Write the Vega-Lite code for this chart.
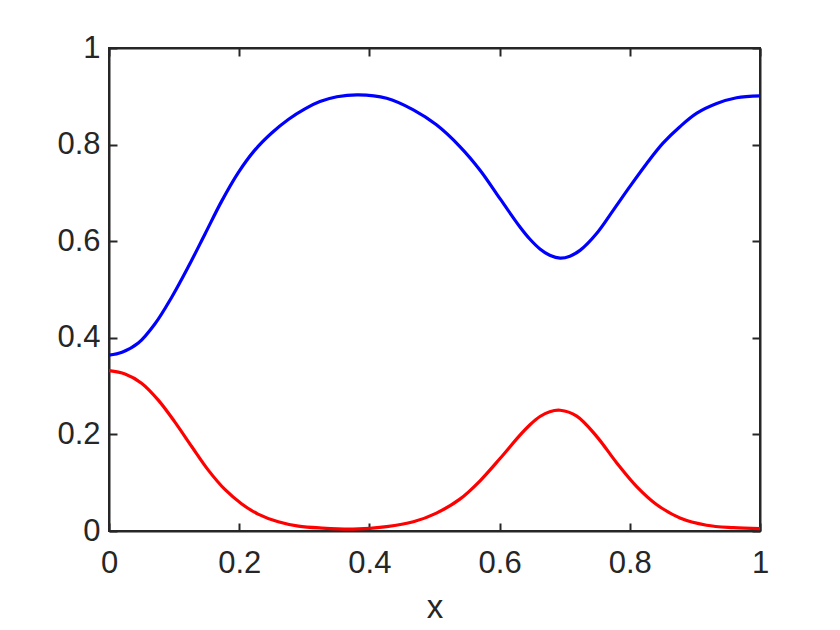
{
  "$schema": "https://vega.github.io/schema/vega-lite/v6.json",
  "width": 651,
  "height": 483,
  "autosize": {"type": "none"},
  "padding": {"left": 109, "top": 48, "right": 80, "bottom": 99},
  "background": "white",
  "config": {
    "font": "Liberation Sans",
    "view": {"stroke": "#262626", "strokeWidth": 2}
  },
  "datasets": {
    "curves": [
      {"x": 0, "y": 0.364, "s": "blue"},
      {"x": 0.02, "y": 0.370, "s": "blue"},
      {"x": 0.045, "y": 0.389, "s": "blue"},
      {"x": 0.0707, "y": 0.429, "s": "blue"},
      {"x": 0.0963, "y": 0.484, "s": "blue"},
      {"x": 0.1218, "y": 0.547, "s": "blue"},
      {"x": 0.1475, "y": 0.615, "s": "blue"},
      {"x": 0.1731, "y": 0.683, "s": "blue"},
      {"x": 0.1986, "y": 0.742, "s": "blue"},
      {"x": 0.2243, "y": 0.789, "s": "blue"},
      {"x": 0.2499, "y": 0.824, "s": "blue"},
      {"x": 0.2754, "y": 0.852, "s": "blue"},
      {"x": 0.301, "y": 0.874, "s": "blue"},
      {"x": 0.324, "y": 0.889, "s": "blue"},
      {"x": 0.35, "y": 0.899, "s": "blue"},
      {"x": 0.383, "y": 0.903, "s": "blue"},
      {"x": 0.4265, "y": 0.896, "s": "blue"},
      {"x": 0.4675, "y": 0.872, "s": "blue"},
      {"x": 0.503, "y": 0.841, "s": "blue"},
      {"x": 0.539, "y": 0.796, "s": "blue"},
      {"x": 0.57, "y": 0.747, "s": "blue"},
      {"x": 0.6006, "y": 0.688, "s": "blue"},
      {"x": 0.631, "y": 0.630, "s": "blue"},
      {"x": 0.6467, "y": 0.604, "s": "blue"},
      {"x": 0.662, "y": 0.584, "s": "blue"},
      {"x": 0.677, "y": 0.571, "s": "blue"},
      {"x": 0.693, "y": 0.565, "s": "blue"},
      {"x": 0.708, "y": 0.569, "s": "blue"},
      {"x": 0.7235, "y": 0.581, "s": "blue"},
      {"x": 0.749, "y": 0.616, "s": "blue"},
      {"x": 0.775, "y": 0.665, "s": "blue"},
      {"x": 0.8, "y": 0.713, "s": "blue"},
      {"x": 0.826, "y": 0.761, "s": "blue"},
      {"x": 0.851, "y": 0.803, "s": "blue"},
      {"x": 0.877, "y": 0.837, "s": "blue"},
      {"x": 0.903, "y": 0.865, "s": "blue"},
      {"x": 0.9335, "y": 0.885, "s": "blue"},
      {"x": 0.964, "y": 0.897, "s": "blue"},
      {"x": 1, "y": 0.901, "s": "blue"},
      {"x": 0, "y": 0.332, "s": "red"},
      {"x": 0.0246, "y": 0.325, "s": "red"},
      {"x": 0.05, "y": 0.306, "s": "red"},
      {"x": 0.0757, "y": 0.271, "s": "red"},
      {"x": 0.101, "y": 0.226, "s": "red"},
      {"x": 0.127, "y": 0.175, "s": "red"},
      {"x": 0.1525, "y": 0.126, "s": "red"},
      {"x": 0.178, "y": 0.086, "s": "red"},
      {"x": 0.204, "y": 0.056, "s": "red"},
      {"x": 0.229, "y": 0.035, "s": "red"},
      {"x": 0.26, "y": 0.019, "s": "red"},
      {"x": 0.291, "y": 0.010, "s": "red"},
      {"x": 0.327, "y": 0.006, "s": "red"},
      {"x": 0.375, "y": 0.004, "s": "red"},
      {"x": 0.4265, "y": 0.009, "s": "red"},
      {"x": 0.4675, "y": 0.019, "s": "red"},
      {"x": 0.503, "y": 0.037, "s": "red"},
      {"x": 0.539, "y": 0.066, "s": "red"},
      {"x": 0.57, "y": 0.104, "s": "red"},
      {"x": 0.6006, "y": 0.150, "s": "red"},
      {"x": 0.631, "y": 0.198, "s": "red"},
      {"x": 0.6467, "y": 0.220, "s": "red"},
      {"x": 0.662, "y": 0.237, "s": "red"},
      {"x": 0.677, "y": 0.247, "s": "red"},
      {"x": 0.693, "y": 0.250, "s": "red"},
      {"x": 0.7185, "y": 0.238, "s": "red"},
      {"x": 0.749, "y": 0.196, "s": "red"},
      {"x": 0.78, "y": 0.141, "s": "red"},
      {"x": 0.8106, "y": 0.092, "s": "red"},
      {"x": 0.841, "y": 0.055, "s": "red"},
      {"x": 0.877, "y": 0.027, "s": "red"},
      {"x": 0.918, "y": 0.012, "s": "red"},
      {"x": 0.959, "y": 0.007, "s": "red"},
      {"x": 1, "y": 0.005, "s": "red"}
    ]
  },
  "data": {"name": "curves"},
  "layer": [
    {
      "transform": [{"filter": "datum.s === 'blue'"}],
      "mark": {"type": "line", "color": "#0000FF", "strokeWidth": 3.2, "interpolate": "catmull-rom", "clip": true},
      "encoding": {
        "x": {"field": "x", "type": "quantitative",
          "scale": {"domain": [0, 1], "nice": false},
          "axis": {"orient": "bottom", "values": [0, 0.2, 0.4, 0.6, 0.8, 1], "format": "~g", "title": "x",
            "grid": false, "domainColor": "#262626", "domainWidth": 2, "tickColor": "#262626", "tickWidth": 2, "tickSize": -8,
            "labelColor": "#262626", "labelFontSize": 31, "labelFont": "Liberation Sans", "labelFlush": false, "labelOverlap": false, "labelPadding": 25,
            "titleColor": "#262626", "titleFont": "Liberation Sans", "titleFontWeight": "normal", "titleFontSize": 33, "titlePadding": 13}},
        "y": {"field": "y", "type": "quantitative",
          "scale": {"domain": [0, 1], "nice": false},
          "axis": {"orient": "left", "values": [0, 0.2, 0.4, 0.6, 0.8, 1], "format": "~g", "title": null,
            "grid": false, "domainColor": "#262626", "domainWidth": 2, "tickColor": "#262626", "tickWidth": 2, "tickSize": -8,
            "labelColor": "#262626", "labelFontSize": 31, "labelFont": "Liberation Sans", "labelFlush": false, "labelOverlap": false, "labelPadding": 17}}
      }
    },
    {
      "transform": [{"filter": "datum.s === 'red'"}],
      "mark": {"type": "line", "color": "#FF0000", "strokeWidth": 3.2, "interpolate": "catmull-rom", "clip": true},
      "encoding": {
        "x": {"field": "x", "type": "quantitative",
          "scale": {"domain": [0, 1], "nice": false},
          "axis": {"orient": "top", "values": [0, 0.2, 0.4, 0.6, 0.8, 1], "labels": false, "title": null,
            "grid": false, "domainColor": "#262626", "domainWidth": 2, "tickColor": "#262626", "tickWidth": 2, "tickSize": -8}},
        "y": {"field": "y", "type": "quantitative",
          "scale": {"domain": [0, 1], "nice": false},
          "axis": {"orient": "right", "values": [0, 0.2, 0.4, 0.6, 0.8, 1], "labels": false, "title": null,
            "grid": false, "domainColor": "#262626", "domainWidth": 2, "tickColor": "#262626", "tickWidth": 2, "tickSize": -8}}
      }
    }
  ],
  "resolve": {"axis": {"x": "independent", "y": "independent"}}
}
